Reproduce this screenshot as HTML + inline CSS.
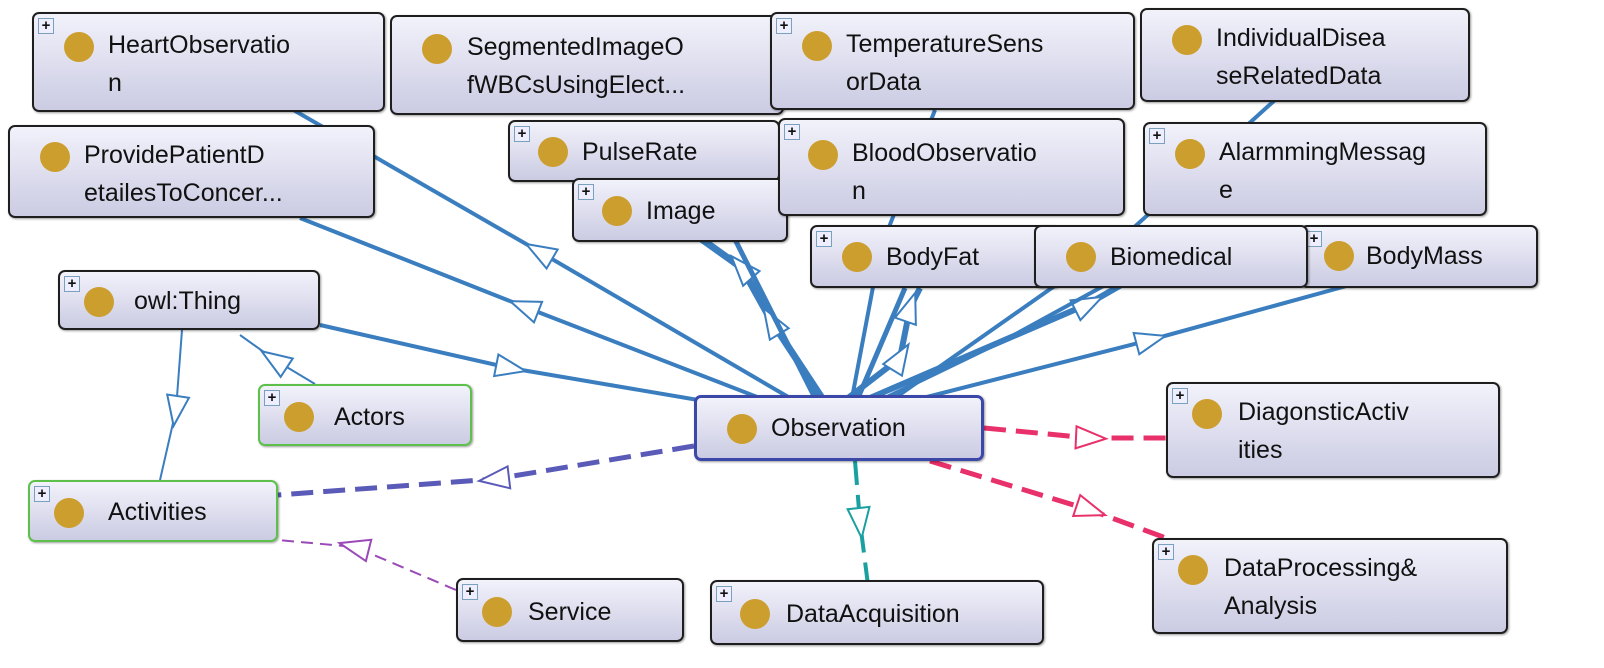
<!DOCTYPE html>
<html><head><meta charset="utf-8"><style>
body{margin:0;width:1604px;height:668px;background:#fff;position:relative;overflow:hidden;font-family:"Liberation Sans",sans-serif}
.b{position:absolute;box-sizing:border-box;border:2px solid #1e1e1e;border-radius:7px;background:linear-gradient(#f2f2fb,#cbcbe3);box-shadow:1px 1px 2px rgba(0,0,0,.4)}
.b .d{position:absolute;left:30px;width:30px;height:30px;border-radius:50%;background:#cc9e2e}
.b .t{position:absolute;left:74px;font-size:25px;line-height:38px;color:#111;white-space:nowrap}
.b .p{position:absolute;left:4px;top:4px;width:14px;height:14px;border:1px solid #7aa0c0;background:#eef;font-size:15px;line-height:13px;text-align:center;font-weight:bold;color:#111}
.g{border-color:#5cc04a}
.o{border:3px solid #3c48a8}
</style></head><body>
<svg width="1604" height="668" style="position:absolute;left:0;top:0">
<defs>
<marker id="ab" markerUnits="userSpaceOnUse" markerWidth="44" markerHeight="34" refX="16" refY="13" orient="auto"><path d="M2,2 L32,13 L2,24 z" fill="#fff" stroke="#3a7ebf" stroke-width="2"/></marker>
<marker id="ap" markerUnits="userSpaceOnUse" markerWidth="44" markerHeight="34" refX="16" refY="13" orient="auto"><path d="M2,2 L32,13 L2,24 z" fill="#fff" stroke="#5a5ab8" stroke-width="2"/></marker>
<marker id="am" markerUnits="userSpaceOnUse" markerWidth="44" markerHeight="34" refX="16" refY="13" orient="auto"><path d="M2,2 L32,13 L2,24 z" fill="#fff" stroke="#9a4ab8" stroke-width="2"/></marker>
<marker id="ar" markerUnits="userSpaceOnUse" markerWidth="44" markerHeight="34" refX="16" refY="13" orient="auto"><path d="M2,2 L32,13 L2,24 z" fill="#fff" stroke="#e8306a" stroke-width="2"/></marker>
<marker id="at" markerUnits="userSpaceOnUse" markerWidth="44" markerHeight="34" refX="16" refY="13" orient="auto"><path d="M2,2 L32,13 L2,24 z" fill="#fff" stroke="#1aa0a0" stroke-width="2"/></marker>
</defs>
<g fill="none" stroke="#3a7ebf" stroke-width="4">
<polyline points="790,398 540,252 290,108" marker-mid="url(#ab)"/>
<polyline points="765,400 525,307 300,218" marker-mid="url(#ab)"/>
<polyline points="320,325 510,368 710,402" marker-mid="url(#ab)"/>
<polyline points="822,398 772,322 742,268 700,238" marker-mid="url(#ab)" stroke-width="7"/>
<polyline points="815,398 705,180" stroke-width="5"/>
<polyline points="848,398 900,358 910,308 920,288" marker-mid="url(#ab)" stroke-width="6"/>
<polyline points="852,398 880,250 935,110"/>
<polyline points="858,398 905,288" stroke-width="5"/>
<polyline points="870,398 1088,304 1130,280" marker-mid="url(#ab)" stroke-width="6"/>
<polyline points="885,398 1005,340 1160,255"/>
<polyline points="895,398 1120,240 1275,100"/>
<polyline points="915,400 1150,340 1350,285" marker-mid="url(#ab)"/>
<polyline points="182,330 176,410 160,480" marker-mid="url(#ab)" stroke-width="2"/>
<polyline points="315,384 275,360 240,335" marker-mid="url(#ab)" stroke-width="2"/>
</g>
<polyline points="694,446 495,479 278,495" fill="none" stroke="#5a5ab8" stroke-width="5" stroke-dasharray="22,10" marker-mid="url(#ap)"/>
<polyline points="456,590 355,547 278,540" fill="none" stroke="#9a4ab8" stroke-width="2" stroke-dasharray="12,7" marker-mid="url(#am)"/>
<polyline points="984,428 1090,438 1166,438" fill="none" stroke="#e8306a" stroke-width="5" stroke-dasharray="22,10" marker-mid="url(#ar)"/>
<polyline points="930,461 1090,510 1185,545" fill="none" stroke="#e8306a" stroke-width="5" stroke-dasharray="22,10" marker-mid="url(#ar)"/>
<polyline points="855,461 860,522 868,585" fill="none" stroke="#1aa0a0" stroke-width="4" stroke-dasharray="24,10" marker-mid="url(#at)"/>
</svg>

<div class="b" style="left:32px;top:12px;width:353px;height:100px"><span class="p">+</span><span class="d" style="top:18px;left:30px"></span><span class="t" style="top:12px">HeartObservatio<br>n</span></div>
<div class="b" style="left:390px;top:15px;width:394px;height:100px"><span class="d" style="top:17px;left:30px"></span><span class="t" style="top:11px;left:75px">SegmentedImageO<br>fWBCsUsingElect...</span></div>
<div class="b" style="left:770px;top:12px;width:365px;height:98px"><span class="p">+</span><span class="d" style="top:17px;left:30px"></span><span class="t" style="top:11px">TemperatureSens<br>orData</span></div>
<div class="b" style="left:1140px;top:8px;width:330px;height:94px"><span class="d" style="top:15px;left:30px"></span><span class="t" style="top:9px">IndividualDisea<br>seRelatedData</span></div>
<div class="b" style="left:8px;top:125px;width:367px;height:93px"><span class="d" style="top:15px;left:30px"></span><span class="t" style="top:9px">ProvidePatientD<br>etailesToConcer...</span></div>
<div class="b" style="left:508px;top:120px;width:272px;height:62px"><span class="p">+</span><span class="d" style="top:15px;left:28px"></span><span class="t" style="top:11px;left:72px">PulseRate</span></div>
<div class="b" style="left:572px;top:178px;width:216px;height:64px"><span class="p">+</span><span class="d" style="top:16px;left:28px"></span><span class="t" style="top:12px;left:72px">Image</span></div>
<div class="b" style="left:778px;top:118px;width:347px;height:98px"><span class="p">+</span><span class="d" style="top:20px;left:28px"></span><span class="t" style="top:14px;left:72px">BloodObservatio<br>n</span></div>
<div class="b" style="left:1143px;top:122px;width:344px;height:94px"><span class="p">+</span><span class="d" style="top:15px;left:30px"></span><span class="t" style="top:9px">AlarmmingMessag<br>e</span></div>
<div class="b" style="left:1300px;top:225px;width:238px;height:63px"><span class="p">+</span><span class="d" style="top:14px;left:22px"></span><span class="t" style="top:10px;left:64px">BodyMass</span></div>
<div class="b" style="left:810px;top:225px;width:250px;height:63px"><span class="p">+</span><span class="d" style="top:15px;left:30px"></span><span class="t" style="top:11px;left:74px">BodyFat</span></div>
<div class="b" style="left:1034px;top:225px;width:274px;height:63px"><span class="d" style="top:15px;left:30px"></span><span class="t" style="top:11px;left:74px">Biomedical</span></div>
<div class="b" style="left:58px;top:270px;width:262px;height:60px"><span class="p">+</span><span class="d" style="top:15px;left:24px"></span><span class="t" style="top:10px;left:74px">owl:Thing</span></div>
<div class="b g" style="left:258px;top:384px;width:214px;height:62px"><span class="p">+</span><span class="d" style="top:16px;left:24px"></span><span class="t" style="top:12px;left:74px">Actors</span></div>
<div class="b o" style="left:694px;top:395px;width:290px;height:66px"><span class="d" style="top:16px;left:30px"></span><span class="t" style="top:11px;left:74px">Observation</span></div>
<div class="b" style="left:1166px;top:382px;width:334px;height:96px"><span class="p">+</span><span class="d" style="top:15px;left:24px"></span><span class="t" style="top:9px;left:70px">DiagonsticActiv<br>ities</span></div>
<div class="b g" style="left:28px;top:480px;width:250px;height:62px"><span class="p">+</span><span class="d" style="top:16px;left:24px"></span><span class="t" style="top:11px;left:78px">Activities</span></div>
<div class="b" style="left:456px;top:578px;width:228px;height:64px"><span class="p">+</span><span class="d" style="top:17px;left:24px"></span><span class="t" style="top:13px;left:70px">Service</span></div>
<div class="b" style="left:710px;top:580px;width:334px;height:65px"><span class="p">+</span><span class="d" style="top:17px;left:28px"></span><span class="t" style="top:13px;left:74px">DataAcquisition</span></div>
<div class="b" style="left:1152px;top:538px;width:356px;height:96px"><span class="p">+</span><span class="d" style="top:15px;left:24px"></span><span class="t" style="top:9px;left:70px">DataProcessing&amp;<br>Analysis</span></div>
</body></html>
